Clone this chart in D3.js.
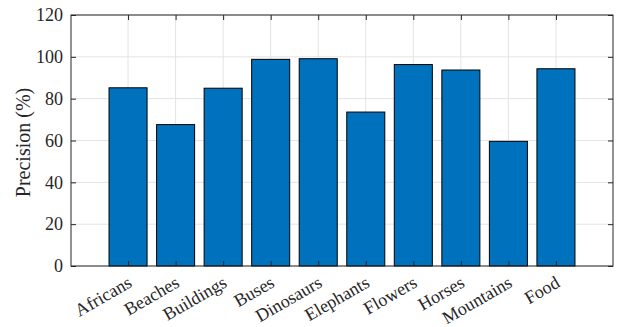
<!DOCTYPE html>
<html>
<head>
<meta charset="utf-8">
<script src="https://cdn.jsdelivr.net/npm/d3@7"></script>
<style>
  html, body { margin: 0; padding: 0; background: #fff; }
</style>
</head>
<body>
<svg id="chart" width="617" height="327"></svg>
<script>
// Precision per image category
const categories = ["Africans", "Beaches", "Buildings", "Buses", "Dinosaurs",
                    "Elephants", "Flowers", "Horses", "Mountains", "Food"];
const precision = [85.2, 67.6, 85.0, 98.8, 99.1, 73.6, 96.3, 93.7, 59.6, 94.3];
const yTicks = [0, 20, 40, 60, 80, 100, 120];

const svg = d3.select("#chart");
const plotL = 71, plotR = 613, plotT = 15, plotB = 266;
const axisColor = "#262626";
const textColor = "#262626";
const fontFamily = '"Liberation Serif"';
const fontSize = 18;
const titleSize = 20;

// categories sit at positions 1..10 on a continuous axis
const x = d3.scaleLinear().domain([-0.2, 11.2]).range([plotL, plotR]);
const y = d3.scaleLinear().domain([0, 120]).range([plotB, plotT]);
const idx = categories.map((_, i) => i + 1);
const barW = x(0.8) - x(0);

// grid
const grid = svg.append("g");
grid.selectAll("line.gy").data(yTicks).join("line")
  .attr("x1", plotL).attr("x2", plotR)
  .attr("y1", d => y(d)).attr("y2", d => y(d))
  .attr("stroke", "#e3e3e3").attr("stroke-width", 1);
grid.selectAll("line.gx").data(idx).join("line")
  .attr("x1", d => x(d)).attr("x2", d => x(d))
  .attr("y1", plotT).attr("y2", plotB)
  .attr("stroke", "#e3e3e3").attr("stroke-width", 1);

// bars
svg.append("g").selectAll("rect").data(precision).join("rect")
  .attr("x", (d, i) => x(i + 1) - barW / 2)
  .attr("width", barW)
  .attr("y", d => y(d))
  .attr("height", d => y(0) - y(d))
  .attr("fill", "#0072BD")
  .attr("stroke", "#000").attr("stroke-width", 1);

// axes (ticks pointing inward, box on)
const tl = 5;
const yAxisL = d3.axisLeft(y).tickValues(yTicks).tickSize(-tl).tickPadding(8);
const yAxisR = d3.axisRight(y).tickValues(yTicks).tickSize(-tl).tickFormat("");
const xAxisB = d3.axisBottom(x).tickValues(idx).tickSize(-tl).tickFormat("");
const xAxisT = d3.axisTop(x).tickValues(idx).tickSize(-tl).tickFormat("");

function style(g) {
  g.attr("font-family", fontFamily).attr("font-size", fontSize);
  g.select(".domain").remove();
  g.selectAll("line").attr("stroke", axisColor);
  g.selectAll("text").attr("fill", textColor)
    .style("font-family", fontFamily).style("font-size", fontSize + "px");
}
svg.append("g").attr("transform", `translate(${plotL},0)`).call(yAxisL).call(style);
svg.append("g").attr("transform", `translate(${plotR},0)`).call(yAxisR).call(style);
svg.append("g").attr("transform", `translate(0,${plotB})`).call(xAxisB).call(style);
svg.append("g").attr("transform", `translate(0,${plotT})`).call(xAxisT).call(style);

// frame
svg.append("rect")
  .attr("x", plotL).attr("y", plotT)
  .attr("width", plotR - plotL).attr("height", plotB - plotT)
  .attr("fill", "none").attr("stroke", axisColor).attr("stroke-width", 1);

// rotated category labels, baseline ending just right of each tick
svg.append("g").selectAll("text").data(categories).join("text")
  .attr("transform", (d, i) => `translate(${x(i + 1) + 5},${plotB + 20}) rotate(-30)`)
  .attr("text-anchor", "end")
  .attr("fill", textColor)
  .style("font-family", fontFamily)
  .style("font-size", fontSize + "px")
  .text(d => d);

// y axis title
svg.append("text")
  .attr("transform", `translate(30,${(plotT + plotB) / 2 + 2}) rotate(-90)`)
  .attr("text-anchor", "middle")
  .attr("fill", textColor)
  .style("font-family", fontFamily)
  .style("font-size", titleSize + "px")
  .text("Precision (%)");
</script>
</body>
</html>
